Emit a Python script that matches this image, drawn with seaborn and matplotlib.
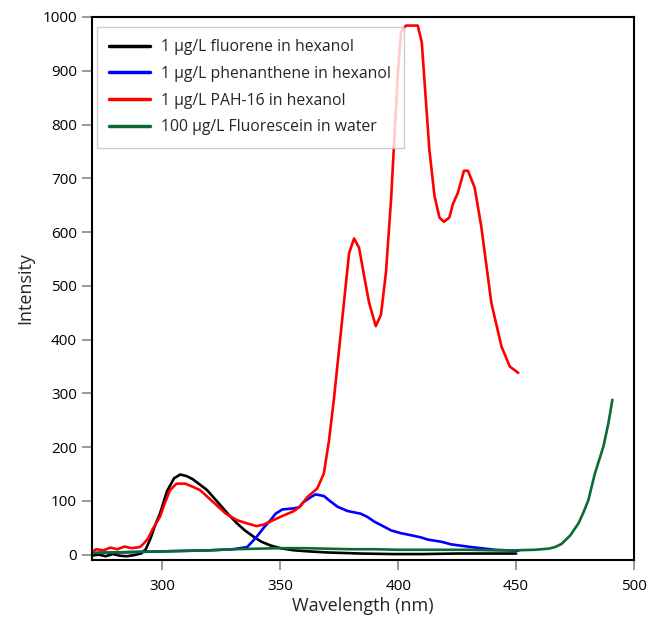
import pandas as pd
import matplotlib
matplotlib.use("Agg")
import matplotlib.pyplot as plt
import seaborn as sns

# Emission spectra
fluorene_x = [270, 273, 276, 279, 282, 285, 288, 291, 293, 295, 297, 299, 302, 305, 307.6, 310.4,
              313, 316, 319, 323.6, 328, 331.7, 335, 338.8, 342, 345.9, 350, 355.8, 362, 370,
              384, 398, 410, 425, 440, 450]
fluorene_y = [-2, 0, -3, 1, -2, -3, -1, 2, 10, 30, 55, 76, 118, 142, 149, 146,
              140, 130, 120, 97, 75, 58, 45, 33, 24, 17, 12, 8, 6, 4,
              2, 1, 1, 2, 2, 2]

phen_x = [270, 280, 290, 300, 310, 320, 330, 336, 340, 343, 345.9, 348, 350.9, 355.8, 358, 360,
          363, 365, 368.5, 371, 374.3, 378.6, 384.2, 387, 390, 394, 397, 401, 405.5, 409.7,
          412.5, 418.2, 422.5, 431, 440.9, 450.9]
phen_y = [3, 4, 5, 6, 7, 8, 10, 14, 33, 50, 64, 76, 84, 86, 88, 98,
          107, 112, 109, 100, 89, 81, 76, 70, 61, 52, 45, 40, 36, 32,
          28, 24, 19, 14, 9, 7]

pah_x = [270, 272, 275, 278, 281, 284, 287, 290.5, 292, 294, 296, 299, 301, 303.3, 306, 309.7,
         313, 316, 319, 323, 327, 331.7, 336, 340, 343, 347, 351, 355.8, 358.5, 361.5, 365.7,
         368.5, 370.7, 372.8, 376.4, 379.2, 381.3, 383.4, 385.5, 387.7, 390.5, 392.7, 394.8,
         397, 399.8, 401.2, 403.3, 408.3, 410, 413.2, 415.4, 417.5, 419.4, 421.7, 423.2, 425.3,
         427.9, 429.6, 432.4, 435.2, 439.5, 443.8, 447.3, 450.9]
pah_y = [5, 10, 8, 13, 10, 15, 12, 14, 20, 30, 48, 70, 95, 120, 132, 132,
         126, 120, 108, 92, 76, 64, 58, 53, 56, 64, 72, 81, 90, 107, 123,
         151, 213, 291, 443, 561, 588, 571, 520, 468, 425, 446, 524,
         661, 891, 972, 984, 984, 953, 754, 667, 627, 619, 627, 652, 673,
         714, 714, 683, 611, 468, 387, 350, 338]

fluor_x = [270, 280, 290, 300, 310, 320, 330, 340, 350, 360, 370, 380, 390, 400, 410, 420,
           430, 440, 450, 458, 463.6, 466.5, 469.3, 473, 476.4, 478.5, 480.6, 483.4, 487,
           489.1, 490.8]
fluor_y = [3, 4, 5, 6, 7, 8, 10, 11, 12, 12, 11, 10, 10, 9, 9, 9,
           9, 8, 8, 9, 11, 14, 20, 36, 58, 78, 101, 151, 201,
           244, 288]

labels = ["1 µg/L fluorene in hexanol",
          "1 µg/L phenanthene in hexanol",
          "1 µg/L PAH-16 in hexanol",
          "100 µg/L Fluorescein in water"]
colors = ["#000000", "#0000ff", "#ff0000", "#0b6b35"]

frames = []
for lab, xs, ys in zip(labels, [fluorene_x, phen_x, pah_x, fluor_x],
                       [fluorene_y, phen_y, pah_y, fluor_y]):
    frames.append(pd.DataFrame({"Wavelength": xs, "Intensity": ys, "Sample": lab}))
df = pd.concat(frames, ignore_index=True)

sns.set_style("ticks")
plt.rcParams["font.family"] = ["Open Sans", "DejaVu Sans"]

fig = plt.figure(figsize=(6.49, 6.22), dpi=100)
ax = fig.add_axes([0.141, 0.0997, 0.836, 0.873])

sns.lineplot(data=df, x="Wavelength", y="Intensity", hue="Sample",
             hue_order=labels, palette=colors, sort=False, estimator=None,
             linewidth=1.9, ax=ax)

ax.set_xlim(270, 500)
ax.set_ylim(-10, 1000)
ax.set_xticks([300, 350, 400, 450, 500])
ax.set_yticks(range(0, 1001, 100))
ax.set_xlabel("Wavelength (nm)", fontsize=13, labelpad=2)
ax.set_ylabel("Intensity", fontsize=13, labelpad=6)
ax.tick_params(axis="both", direction="out", length=7, width=1.2, color="#888888",
               labelsize=11, labelcolor="black")
ax.tick_params(axis="x", pad=7)
for side in ["top", "right", "bottom", "left"]:
    ax.spines[side].set_visible(True)
    ax.spines[side].set_color("black")
    ax.spines[side].set_linewidth(1.5)

leg = ax.legend(loc="upper left", bbox_to_anchor=(0.01, 0.982), borderaxespad=0,
                fontsize=11.3, frameon=True, fancybox=False,
                handlelength=2.6, handletextpad=0.7, borderpad=0.8, labelspacing=0.68)
leg.get_frame().set_edgecolor("#c0c0c0")
leg.get_frame().set_linewidth(1)
for line in leg.get_lines():
    line.set_linewidth(2.5)

fig.savefig("out.png", dpi=100)
